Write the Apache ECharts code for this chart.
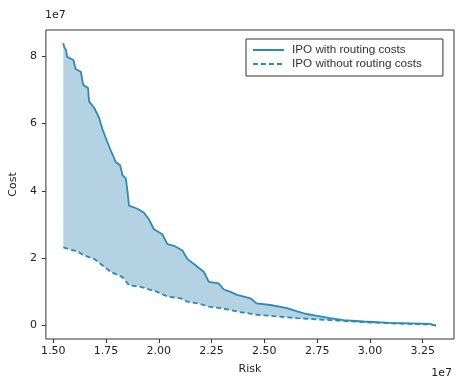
<!DOCTYPE html>
<html>
<head>
<meta charset="utf-8">
<script src="https://cdn.jsdelivr.net/npm/echarts@6/dist/echarts.min.js"></script>
<style>
html, body { margin: 0; background: #fff; }
#chart { width: 474px; height: 380px; }
</style>
</head>
<body>
<div id="chart"></div>
<script>
// values in units of 1e7 (as on the axes)
var riskWith = [1.548, 1.552, 1.561, 1.566, 1.596, 1.606, 1.631, 1.642, 1.665, 1.670, 1.694, 1.717, 1.733, 1.754, 1.773, 1.796, 1.817, 1.828, 1.844, 1.852, 1.859, 1.899, 1.930, 1.954, 1.977, 2.017, 2.041, 2.072, 2.112, 2.135, 2.174, 2.214, 2.237, 2.284, 2.308, 2.340, 2.371, 2.434, 2.463, 2.529, 2.608, 2.655, 2.694, 2.750, 2.812, 2.875, 2.970, 3.096, 3.285, 3.313];
var costWith = [8.39, 8.28, 8.18, 7.98, 7.89, 7.62, 7.54, 7.15, 7.06, 6.66, 6.47, 6.18, 5.84, 5.49, 5.20, 4.86, 4.76, 4.47, 4.37, 3.98, 3.56, 3.47, 3.35, 3.15, 2.86, 2.71, 2.42, 2.37, 2.23, 1.98, 1.79, 1.59, 1.30, 1.25, 1.07, 1.00, 0.91, 0.81, 0.66, 0.61, 0.52, 0.42, 0.35, 0.29, 0.22, 0.16, 0.12, 0.08, 0.05, 0.00];
var riskWithout = [1.548, 1.615, 1.647, 1.694, 1.725, 1.773, 1.828, 1.859, 1.914, 1.993, 2.041, 2.104, 2.135, 2.198, 2.237, 2.292, 2.387, 2.466, 2.655, 2.812, 2.970, 3.128, 3.285, 3.313];
var costWithout = [2.32, 2.20, 2.08, 1.98, 1.83, 1.59, 1.44, 1.20, 1.15, 1.00, 0.86, 0.81, 0.71, 0.64, 0.56, 0.52, 0.40, 0.32, 0.22, 0.16, 0.10, 0.06, 0.03, 0.00];
var xTicks = [1.5, 1.75, 2.0, 2.25, 2.5, 2.75, 3.0, 3.25];
var yTicks = [0, 2, 4, 6, 8];

function pairs(xs, ys) {
	return xs.map(function(x, i) { return [x, ys[i]]; });
}
var withPts = pairs(riskWith, costWith);
var withoutPts = pairs(riskWithout, costWithout);

var lineColor = '#2a8bb9';
var tickFont = { color: '#222', fontSize: 11, fontFamily: 'DejaVu Sans' };

var chart = echarts.init(document.getElementById('chart'));
chart.setOption({
	animation: false,
	grid: { left: 45, right: 20, top: 30, bottom: 37, show: true, borderColor: '#333', borderWidth: 1 },
	xAxis: {
		type: 'value', min: 1.4655, max: 3.398,
		name: 'Risk', nameLocation: 'middle', nameGap: 25,
		nameTextStyle: tickFont,
		axisLine: { show: false, onZero: false },
		splitLine: { show: false },
		axisTick: { customValues: xTicks, length: 4, lineStyle: { color: '#333' } },
		axisLabel: Object.assign({ customValues: xTicks, margin: 7, formatter: function(v) { return v.toFixed(2); } }, tickFont)
	},
	yAxis: {
		type: 'value', min: -0.40, max: 8.78,
		name: 'Cost', nameLocation: 'middle', nameGap: 19,
		nameTextStyle: tickFont,
		axisLine: { show: false, onZero: false },
		splitLine: { show: false },
		axisTick: { show: true, customValues: yTicks, length: 4, lineStyle: { color: '#333' } },
		axisLabel: Object.assign({ customValues: yTicks, margin: 9, formatter: function(v) { return String(v); } }, tickFont)
	},
	legend: {
		left: 246, top: 39, orient: 'vertical',
		data: ['IPO with routing costs', 'IPO without routing costs'],
		borderColor: '#333', borderWidth: 1, borderRadius: 0,
		padding: [5, 21, 6, 6],
		itemWidth: 31, itemHeight: 14, itemGap: 2,
		itemStyle: { color: 'rgba(0,0,0,0)', borderWidth: 0 },
		textStyle: { fontFamily: 'Liberation Sans', fontSize: 11.7, color: '#333', padding: [0, 0, 0, 3] }
	},
	graphic: [
		{ type: 'text', left: 45, top: 10, style: { text: '1e7', font: '11px "DejaVu Sans"', fill: '#222' } },
		{ type: 'text', right: 22, top: 368, style: { text: '1e7', font: '11px "DejaVu Sans"', fill: '#222' } }
	],
	series: [
		{
			type: 'custom',
			silent: true,
			z: 1,
			data: [withPts[0]],
			renderItem: function(params, api) {
				var pts = withPts.concat(withoutPts.slice().reverse()).map(function(p) { return api.coord(p); });
				return { type: 'polygon', shape: { points: pts }, style: { fill: '#b5d2e2', stroke: null } };
			}
		},
		{
			name: 'IPO with routing costs', type: 'line', data: withPts, z: 3,
			symbol: 'none', color: lineColor,
			lineStyle: { color: lineColor, width: 1.8 }
		},
		{
			name: 'IPO without routing costs', type: 'line', data: withoutPts, z: 3,
			symbol: 'none', color: lineColor,
			lineStyle: { color: lineColor, width: 1.8, type: [5, 3] }
		}
	]
});
</script>
</body>
</html>
